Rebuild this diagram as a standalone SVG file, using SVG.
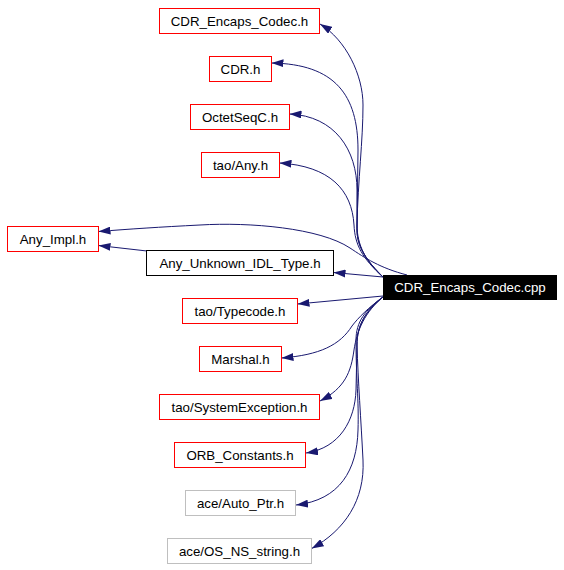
<svg xmlns="http://www.w3.org/2000/svg" width="564" height="570" viewBox="0 0 564 570">
<style>
.n rect{fill:#fff;stroke-width:1}
.r rect{stroke:#ff0000}
.g rect{stroke:#bfbfbf}
.k rect{stroke:#000}
text{font-family:"Liberation Sans",Arial,Helvetica,sans-serif;font-size:13.3px;text-anchor:middle;fill:#000}
.e path{fill:none;stroke:#191970;stroke-width:1;marker-end:url(#a)}
</style>
<defs>
<marker id="a" markerUnits="userSpaceOnUse" markerWidth="12" markerHeight="8" refX="12" refY="4" orient="auto" viewBox="0 0 12 8">
<path d="M0,0 L12,4 L0,8 z" fill="#191970"/>
</marker>
</defs>
<rect width="564" height="570" fill="#fff"/>
<g class="e" id="edges">
<path d="M383,277 C366,262 357,245 357,225 C358,180 363,140 363,105 C363,75 346,40 320,24"/>
<path d="M383,277 C368,262 357,248 357,230 L358,150 C358,95 335,64 271.5,63"/>
<path d="M383,277 C368,262 357,248 357,230 L357,190 C357,150 335,116 289.5,114"/>
<path d="M383,277 C362,258 355,245 354,225 C352,190 330,166 279.5,163"/>
<path d="M407,275 C380,268 365,258 350,248 C320,228 250,222 200,225 C160,227 130,229 98.5,231.5"/>
<path d="M147,251 L98.5,245.5"/>
<path d="M383,277 L333.5,272.5"/>
<path d="M383,296 L297.5,304"/>
<path d="M383,297 C368,308 358,318 352,326 C340,345 320,355 281.5,358"/>
<path d="M383,297 C365,312 357,330 354,350 C351,372 345,388 320,401"/>
<path d="M383,297 C365,312 357,325 357,345 L356,390 C355,420 340,448 306,453"/>
<path d="M383,297 C365,310 356,322 356,340 C356,380 359,400 358,430 C357,470 340,500 296,505"/>
<path d="M383,297 C366,310 357,325 357,345 C358,380 361,420 363,460 C365,500 345,530 311.7,548.5"/>
</g>
<g id="cpp"><rect x="383" y="275" width="174" height="25" fill="#000"/><text x="470" y="292" fill="#fff" style="fill:#fff">CDR_Encaps_Codec.cpp</text></g>
<g id="n1" class="n r"><rect x="159.5" y="8.5" width="160" height="25"/><text x="239.5" y="25.5">CDR_Encaps_Codec.h</text></g>
<g id="n2" class="n r"><rect x="209.5" y="56.5" width="62" height="25"/><text x="240.5" y="73.5">CDR.h</text></g>
<g id="n3" class="n r"><rect x="190.5" y="104.5" width="99" height="25"/><text x="240" y="121.5">OctetSeqC.h</text></g>
<g id="n4" class="n r"><rect x="201.5" y="152.5" width="78" height="25"/><text x="240.5" y="169.5">tao/Any.h</text></g>
<g id="n5" class="n r"><rect x="7.5" y="226.5" width="91" height="25"/><text x="53" y="243.5">Any_Impl.h</text></g>
<g id="n6" class="n k"><rect x="146.5" y="250.5" width="187" height="25"/><text x="240" y="267.5">Any_Unknown_IDL_Type.h</text></g>
<g id="n7" class="n r"><rect x="182.5" y="298.5" width="115" height="25"/><text x="240" y="315.5">tao/Typecode.h</text></g>
<g id="n8" class="n r"><rect x="199.5" y="346.5" width="82" height="25"/><text x="240.5" y="363.5">Marshal.h</text></g>
<g id="n9" class="n r"><rect x="159.5" y="394.5" width="160" height="25"/><text x="239.5" y="411.5">tao/SystemException.h</text></g>
<g id="n10" class="n r"><rect x="174.5" y="442.5" width="131" height="25"/><text x="240" y="459.5">ORB_Constants.h</text></g>
<g id="n11" class="n g"><rect x="185.5" y="490.5" width="110" height="25"/><text x="240.5" y="507.5">ace/Auto_Ptr.h</text></g>
<g id="n12" class="n g"><rect x="167.5" y="538.5" width="144" height="25"/><text x="239.5" y="555.5">ace/OS_NS_string.h</text></g>
</svg>
